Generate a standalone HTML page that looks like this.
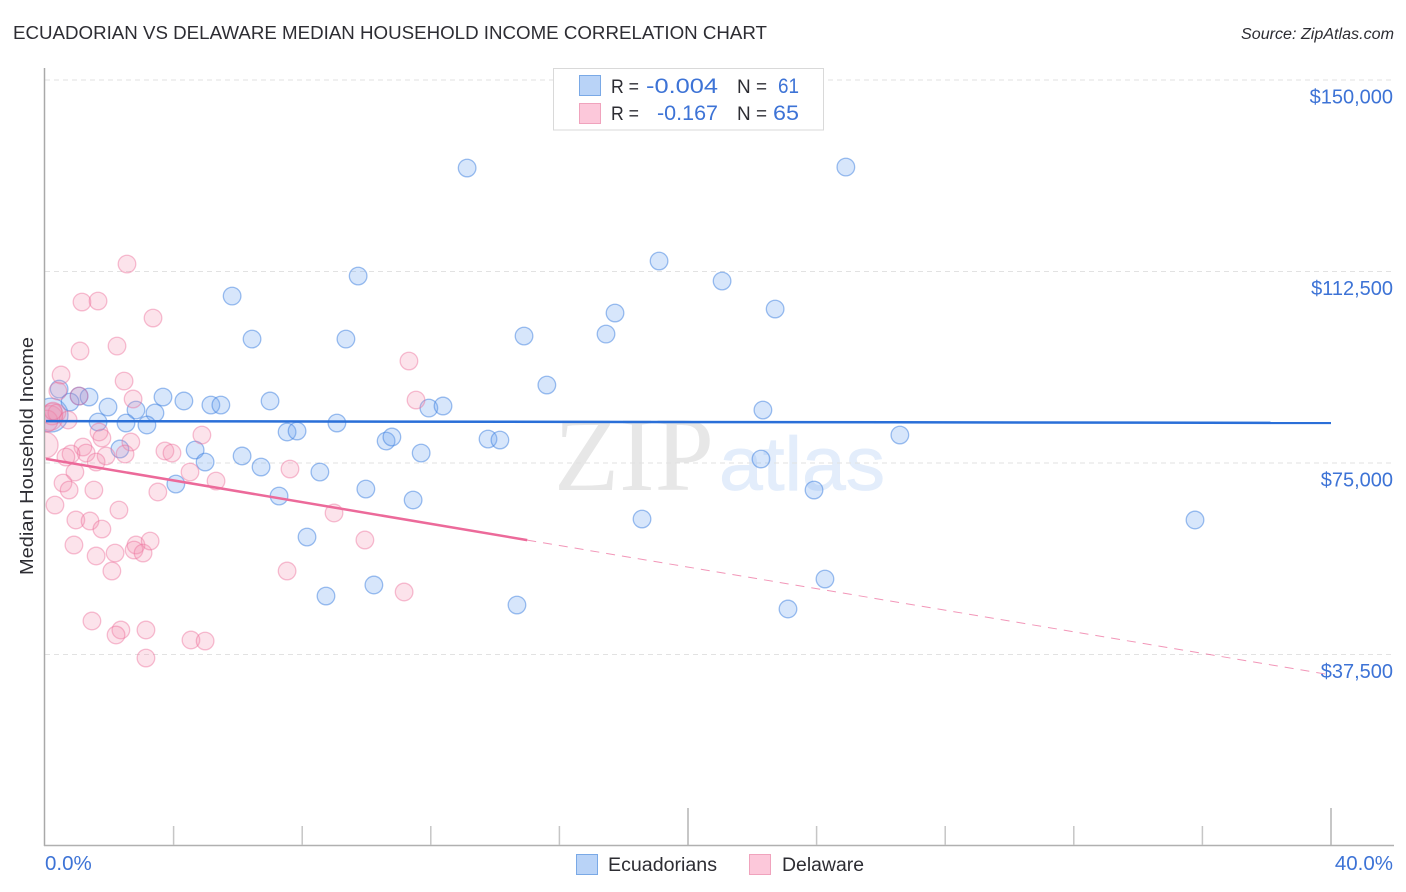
<!DOCTYPE html>
<html>
<head>
<meta charset="utf-8">
<title>Ecuadorian vs Delaware Median Household Income Correlation Chart</title>
<style>
html,body{margin:0;padding:0;background:#fff;width:1406px;height:892px;overflow:hidden}
svg{display:block}
text{font-family:"Liberation Sans","DejaVu Sans",sans-serif}
</style>
</head>
<body>
<svg id="chart" width="1406" height="892" viewBox="0 0 1406 892" xmlns="http://www.w3.org/2000/svg">
  <defs><clipPath id="plot-clip"><rect x="45" y="60" width="1349" height="785"/></clipPath></defs>

  <text x="13" y="39" font-size="18.5" fill="#2d2d33" textLength="754" lengthAdjust="spacingAndGlyphs">ECUADORIAN VS DELAWARE MEDIAN HOUSEHOLD INCOME CORRELATION CHART</text>
  <text x="1241" y="39" font-size="15.5" font-style="italic" fill="#2d2d33" textLength="153" lengthAdjust="spacingAndGlyphs">Source: ZipAtlas.com</text>

  <g>
    <text x="554" y="490" font-size="106" fill="#e7e7e7" style="font-family:'Liberation Serif',serif" textLength="160" lengthAdjust="spacingAndGlyphs">ZIP</text>
    <text x="719" y="490" font-size="76" fill="#e3edfb" stroke="#e3edfb" stroke-width="0.8" textLength="166" lengthAdjust="spacingAndGlyphs">atlas</text>
  </g>

  <g id="grid"></g>
  <g id="axes"></g>
  <g id="marks" clip-path="url(#plot-clip)"></g>
  <g id="trends"></g>
  <g id="labels"></g>

  <text transform="translate(33,456) rotate(-90)" font-size="18.5" fill="#2d2d33" text-anchor="middle" textLength="238" lengthAdjust="spacingAndGlyphs">Median Household Income</text>

  <g>
    <rect x="553.5" y="68.5" width="270" height="61.5" fill="#fff" stroke="#d9d9d9" stroke-width="1"/>
    <rect x="579.5" y="75.5" width="21" height="20" fill="#b9d3f7" stroke="#7aa9e6" stroke-width="1"/>
    <rect x="579.5" y="103.5" width="21" height="20" fill="#fcc8da" stroke="#f0a3bd" stroke-width="1"/>
    <text x="611" y="93" font-size="19.5" fill="#2d2d33" textLength="28" lengthAdjust="spacingAndGlyphs">R =</text>
    <text x="646" y="93" font-size="21.5" fill="#3d73d6" textLength="72" lengthAdjust="spacingAndGlyphs">-0.004</text>
    <text x="737" y="93" font-size="19.5" fill="#2d2d33" textLength="30" lengthAdjust="spacingAndGlyphs">N =</text>
    <text x="778" y="93" font-size="21.5" fill="#3d73d6" textLength="21" lengthAdjust="spacingAndGlyphs">61</text>
    <text x="611" y="120" font-size="19.5" fill="#2d2d33" textLength="28" lengthAdjust="spacingAndGlyphs">R =</text>
    <text x="657" y="120" font-size="21.5" fill="#3d73d6" textLength="61" lengthAdjust="spacingAndGlyphs">-0.167</text>
    <text x="737" y="120" font-size="19.5" fill="#2d2d33" textLength="30" lengthAdjust="spacingAndGlyphs">N =</text>
    <text x="773" y="120" font-size="21.5" fill="#3d73d6" textLength="26" lengthAdjust="spacingAndGlyphs">65</text>
  </g>

  <g>
    <rect x="576.5" y="854.5" width="21" height="20" fill="#b9d3f7" stroke="#7aa9e6" stroke-width="1"/>
    <text x="608" y="871" font-size="19" fill="#2d2d33" textLength="109" lengthAdjust="spacingAndGlyphs">Ecuadorians</text>
    <rect x="749.5" y="854.5" width="21" height="20" fill="#fcc8da" stroke="#f0a3bd" stroke-width="1"/>
    <text x="782" y="871" font-size="19" fill="#2d2d33" textLength="82" lengthAdjust="spacingAndGlyphs">Delaware</text>
  </g>
</svg>

<script>
// ---- chart data (x: percent, y: thousands of dollars) ----
var yTickValues = [150, 112.5, 75, 37.5];
var yTickLabels = ['$150,000', '$112,500', '$75,000', '$37,500'];
var xTickValues = [0, 4, 8, 12, 16, 20, 24, 28, 32, 36, 40];
var xEndLabels = ['0.0%', '40.0%'];

var ecuadorianX = [0.19,13.13,24.91,19.10,21.06,9.74,5.82,22.71,17.73,17.45,14.90,6.44,9.36,15.61,0.44,1.06,1.37,0.78,3.67,4.32,5.16,5.47,7.00,1.96,2.83,3.42,11.94,12.38,22.33,1.65,2.52,3.17,9.08,7.53,7.84,10.61,10.79,13.78,14.15,11.70,26.59,2.33,4.67,4.98,6.13,6.72,8.55,4.07,7.28,9.98,11.45,22.27,23.92,18.57,35.77,8.15,24.26,10.23,8.74,14.68,23.11];
var ecuadorianY = [84.39,132.76,132.95,114.55,110.63,111.61,107.69,105.15,104.37,100.25,99.86,99.27,99.27,90.27,89.48,88.11,87.92,86.94,87.92,87.14,86.35,86.35,87.14,85.96,85.37,84.79,85.76,86.16,85.37,83.02,82.83,82.44,82.83,81.07,81.26,79.30,80.09,79.69,79.50,76.95,80.48,77.74,77.54,75.19,76.37,74.21,73.23,70.88,68.53,69.90,67.75,75.78,69.71,64.03,63.84,60.50,52.28,51.11,48.95,47.19,46.41];
var ecuadorianWeights = [3.7];

var delawareX = [0.0,0.16,0.22,0.06,0.37,0.72,0.40,1.06,1.09,2.24,0.50,2.46,2.74,2.55,1.15,1.65,3.36,11.32,11.54,1.68,1.77,2.67,4.88,3.73,3.95,1.18,1.28,0.81,0.65,1.90,2.49,1.59,0.93,7.62,4.51,5.32,0.56,0.75,1.52,3.51,0.31,2.30,0.96,1.40,1.77,0.90,1.59,2.18,2.08,2.83,2.77,3.05,3.27,7.53,1.46,2.36,2.21,3.14,4.54,4.98,3.14,8.99,9.95,11.17,0.25];
var delawareY = [78.52,83.81,84.59,83.22,84.79,83.42,89.09,88.11,96.93,97.90,92.23,91.05,87.53,113.96,106.52,106.72,103.39,94.97,87.33,81.07,79.89,79.11,80.48,77.35,76.95,78.13,76.95,76.76,76.17,76.37,76.76,75.19,73.23,73.82,73.23,71.47,71.08,69.71,69.71,69.32,66.77,65.79,63.84,63.64,62.07,58.94,56.79,57.37,53.85,58.94,57.96,57.37,59.72,53.85,44.06,42.30,41.32,42.30,40.34,40.14,36.81,65.21,59.92,49.74,85.18];
var delawareWeights = [2.2,2,1.5,1.5];

var ecuadorianTrendX = [0, 40];
var ecuadorianTrendY = [83.2, 82.85];
var delawareTrendX = [0, 15, 40];
var delawareTrendY = [75.8, 59.9, 33.5];

// ---- axis functions ----
function xScale(v) { return 45 + v * 32.15; }
function yScale(v) { return 654.5 - (v - 37.5) * 5.1067; }
function rScale(w) { return 8.8 * Math.sqrt(w); }

var NS = 'http://www.w3.org/2000/svg';
function make(parent, tag, attrs, txt) {
  var e = document.createElementNS(NS, tag);
  for (var k in attrs) e.setAttribute(k, attrs[k]);
  if (txt !== undefined) e.textContent = txt;
  document.getElementById(parent).appendChild(e);
  return e;
}

// gridlines and y tick labels
yTickValues.forEach(function (v, i) {
  var g = make('grid', 'line', {x1: 45, x2: 1394, y1: yScale(v), y2: yScale(v), stroke: '#e2e2e2', 'stroke-width': 1, 'stroke-dasharray': '5 4'});
  
  
  var t = make('labels', 'text', {x: 1393, y: yScale(v) + 23.5, 'font-size': 20, fill: '#3d73d6', 'text-anchor': 'end'}, yTickLabels[i]);
  
  
});

// axes
var yAxis = make('axes', 'line', {x1: 44.5, x2: 44.5, y1: 68, y2: 846, stroke: '#a9a9a9', 'stroke-width': 1.5});


var xAxis = make('axes', 'line', {x1: 44, x2: 1394, y1: 845.5, y2: 845.5, stroke: '#b0b0b0', 'stroke-width': 1.5});


xTickValues.forEach(function (v) {
  if (v === 0) return;
  var major = (v === 20 || v === 40);
  var tick = make('axes', 'line', {x1: xScale(v), x2: xScale(v), y1: major ? 808 : 826, y2: 845, stroke: major ? '#b4b4b4' : '#c6c6c6', 'stroke-width': 1.5});
  
  
});
var x0 = make('labels', 'text', {x: 45, y: 870, 'font-size': 20.5, fill: '#3d73d6'}, xEndLabels[0]);


var x1 = make('labels', 'text', {x: 1393, y: 870, 'font-size': 20.5, fill: '#3d73d6', 'text-anchor': 'end'}, xEndLabels[1]);



// points
ecuadorianX.forEach(function (v, i) {
  var c = make('marks', 'circle', {cx: xScale(v), cy: yScale(ecuadorianY[i]), r: rScale(ecuadorianWeights[i] || 1), fill: '#6ea6ef', 'fill-opacity': 0.28, stroke: '#3d80e0', 'stroke-opacity': 0.5, 'stroke-width': 1.3});
  
  
});
delawareX.forEach(function (v, i) {
  var c = make('marks', 'circle', {cx: xScale(v), cy: yScale(delawareY[i]), r: rScale(delawareWeights[i] || 1), fill: '#f48fb1', 'fill-opacity': 0.25, stroke: '#ec6a96', 'stroke-opacity': 0.42, 'stroke-width': 1.3});
  
  
});

// trend lines
var blueTrend = make('trends', 'line', {x1: xScale(ecuadorianTrendX[0]) + 1, y1: yScale(ecuadorianTrendY[0]), x2: xScale(ecuadorianTrendX[1]), y2: yScale(ecuadorianTrendY[1]), stroke: '#2a6fd8', 'stroke-width': 2.5});


var pinkSolid = make('trends', 'line', {x1: xScale(delawareTrendX[0]) + 1, y1: yScale(delawareTrendY[0]), x2: xScale(delawareTrendX[1]), y2: yScale(delawareTrendY[1]), stroke: '#ec6a9a', 'stroke-width': 2.5});


var pinkDash = make('trends', 'line', {x1: xScale(delawareTrendX[1]), y1: yScale(delawareTrendY[1]), x2: xScale(delawareTrendX[2]), y2: yScale(delawareTrendY[2]), stroke: '#ec6a9a', 'stroke-opacity': 0.7, 'stroke-width': 1, 'stroke-dasharray': '9 7'});


</script>
</body>
</html>
